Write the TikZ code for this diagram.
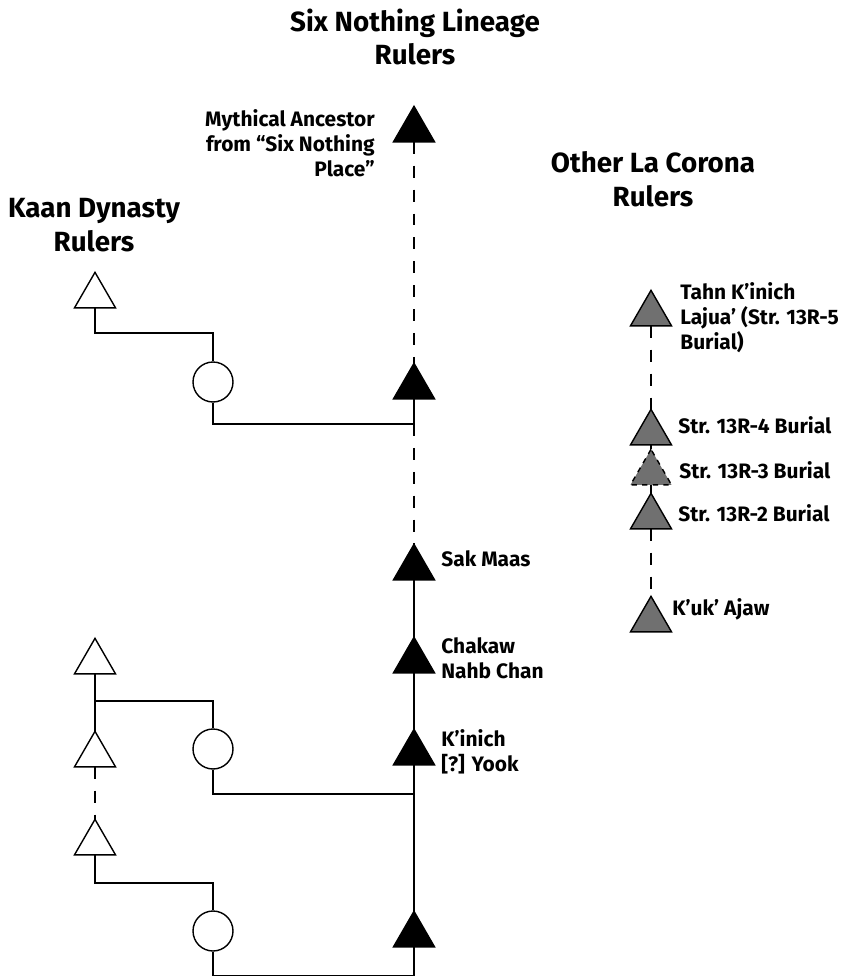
\documentclass[tikz,border=0pt]{standalone}
\usepackage{fontspec}
\setmainfont{Fira Sans}
\usetikzlibrary{shapes.geometric}
\definecolor{burialgray}{RGB}{112,112,112}
\tikzset{
  tri/.style={regular polygon, regular polygon sides=3, minimum size=0.947cm,
    inner sep=0pt, outer sep=0pt, draw, line width=0.8pt},
  six/.style={tri, fill=black},
  kaan/.style={tri, fill=white},
  other/.style={tri, fill=burialgray},
  wife/.style={circle, draw, line width=0.8pt, minimum size=0.8cm, inner sep=0pt},
  heading/.style={font=\fontsize{15.8}{19.3}\selectfont\bfseries, align=center, inner sep=0pt},
  lbl/.style={font=\fontsize{11.9}{14.2}\selectfont\bfseries, inner sep=0pt},
  link/.style={line width=0.8pt},
  gap/.style={line width=0.8pt, dash pattern=on 6.8pt off 6.8pt},
}
\begin{document}
\begin{tikzpicture}[x=0.02cm, y=-0.02cm]
      \useasboundingbox (0,0) rectangle (842,977);
      \node[heading] (sixhead) at (415,37) {Six Nothing Lineage\\Rulers};
      \node[heading] (kaanhead) at (94,225) {Kaan Dynasty\\Rulers};
      \node[heading] (otherhead) at (653,179) {Other La Corona\\Rulers};
      \node[six] (anc) at (414,130) {};
      \node[six] (s1) at (414,387) {};
      \node[six] (sak) at (414,568) {};
      \node[six] (chakaw) at (414,661) {};
      \node[six] (kinich) at (414,753) {};
      \node[six] (s5) at (414,935) {};
      \node[kaan] (k1) at (95,296) {};
      \node[kaan] (k2) at (95,662) {};
      \node[kaan] (k3) at (95,755) {};
      \node[kaan] (k4) at (95,843) {};
      \node[wife] (w1) at (213,382) {};
      \node[wife] (w2) at (213,749) {};
      \node[wife] (w3) at (213,931) {};
      \node[other] (tahn) at (651,314) {};
      \node[other] (r4) at (651,433) {};
      \node[other, dashed] (r3) at (651,473) {};
      \node[other] (r2) at (651,517) {};
      \node[other] (kuk) at (651,620) {};
      \coordinate (m1) at (414,424);
      \coordinate (m2) at (414,794);
      \node[lbl, anchor=east, align=right] (anclbl) at (375,143)
        {Mythical Ancestor\\from “Six Nothing\\Place”};
      \node[lbl, anchor=west] (saklbl) at (441,559) {Sak Maas};
      \node[lbl, anchor=west, align=left] (chakawlbl) at (441,658) {Chakaw\\Nahb Chan};
      \node[lbl, anchor=west, align=left] (kinichlbl) at (441,752) {K’inich\\{[?]} Yook};
      \node[lbl, anchor=west, align=left] (tahnlbl) at (680,318)
        {Tahn K’inich\\Lajua’ (Str. 13R-5\\Burial)};
      \node[lbl, anchor=west] (r4lbl) at (678,425) {Str. 13R-4 Burial};
      \node[lbl, anchor=west] (r3lbl) at (679,470) {Str. 13R-3 Burial};
      \node[lbl, anchor=west] (r2lbl) at (678,513) {Str. 13R-2 Burial};
      \node[lbl, anchor=west] (kuklbl) at (672,609) {K’uk’ Ajaw};
      \begin{scope}[link]
        \draw (k1.south) -- ++(0,25) -| (w1.north);
        \draw (w1.south) |- (m1);
        \draw (s1.south) -- (m1);
        \draw (sak) to (chakaw);
        \draw (chakaw) to (kinich);
        \draw (kinich) to (s5);
        \draw (k2) to (k3);
        \draw (k2.south) -- ++(0,27) -| (w2.north);
        \draw (w2.south) |- (m2);
        \draw (k4.south) -- ++(0,28) -| (w3.north);
        \draw (w3.south) -- ++(0,24) -| (s5.south);
        \draw (r4) to (r3);
        \draw (r3) to (r2);
      \end{scope}
      \begin{scope}[gap]
        \draw (anc) to (s1);
        \draw (m1) to (sak.north);
        \draw (k3) to (k4);
        \draw (tahn) to (r4);
        \draw (r2) to (kuk);
      \end{scope}
    \end{tikzpicture}
\end{document}
